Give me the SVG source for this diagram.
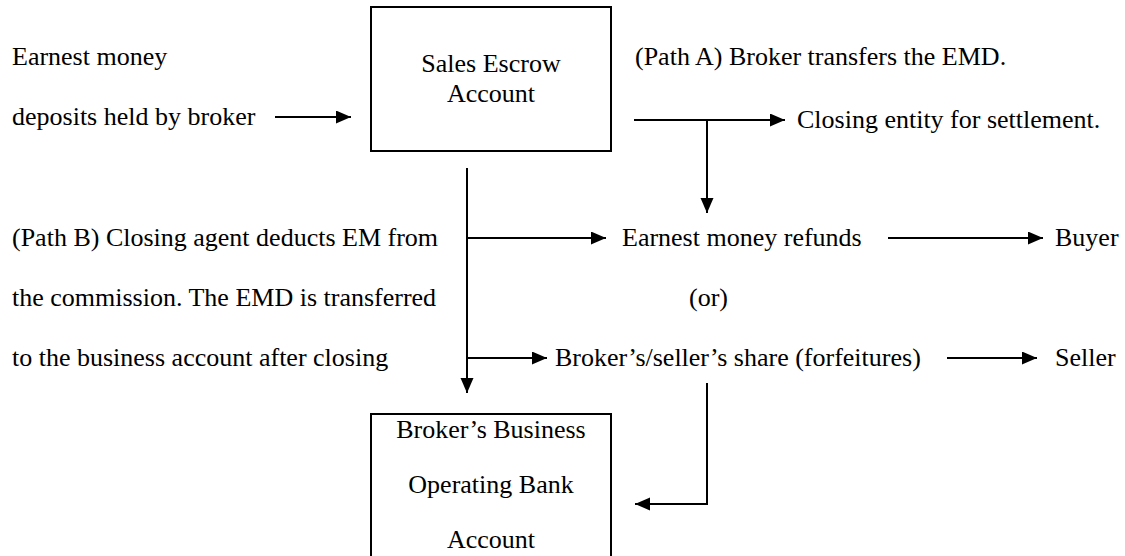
<svg xmlns="http://www.w3.org/2000/svg" width="1125" height="556" viewBox="0 0 1125 556" font-family="'Liberation Serif', 'Times New Roman', Tinos, serif" font-size="26">
<style>
.t{font-family:'Liberation Serif','Times New Roman',Tinos,serif;font-size:26px;fill:#000}
.c{text-anchor:middle}
.box{fill:#fff;stroke:#000;stroke-width:2}
.ln{fill:none;stroke:#000;stroke-width:2}
.ar{marker-end:url(#ah)}
</style>
<defs>
<marker id="ah" markerUnits="userSpaceOnUse" markerWidth="16" markerHeight="14" refX="15" refY="6.5" orient="auto">
<path d="M0,0 L15,6.5 L0,13 z" fill="#000"/>
</marker>
</defs>
<rect width="1125" height="556" fill="#fff"/>
<g id="source" class="t">
<text x="12" y="65">Earnest money</text>
<text x="12" y="125">deposits held by broker</text>
</g>
<g id="escrow" class="t">
<rect class="box" x="371" y="7" width="240" height="144"/>
<text class="c" x="491" y="72">Sales Escrow</text>
<text class="c" x="491" y="102">Account</text>
</g>
<g id="pathA" class="t"><text x="635" y="65">(Path A) Broker transfers the EMD.</text></g>
<g id="closing" class="t"><text x="797" y="128">Closing entity for settlement.</text></g>
<g id="pathB" class="t">
<text x="12" y="246">(Path B) Closing agent deducts EM from</text>
<text x="12" y="306">the commission. The EMD is transferred</text>
<text x="12" y="366">to the business account after closing</text>
</g>
<g id="refunds" class="t"><text x="622" y="246">Earnest money refunds</text></g>
<g id="or" class="t"><text x="689" y="306">(or)</text></g>
<g id="share" class="t"><text x="555" y="366">Broker’s/seller’s share (forfeitures)</text></g>
<g id="buyer" class="t"><text x="1055" y="246">Buyer</text></g>
<g id="seller" class="t"><text x="1055" y="366">Seller</text></g>
<g id="business" class="t">
<rect class="box" x="371" y="414" width="240" height="160"/>
<text class="c" x="491" y="438">Broker’s Business</text>
<text class="c" x="491" y="493">Operating Bank</text>
<text class="c" x="491" y="548">Account</text>
</g>
<g id="connectors">
<line class="ln ar" x1="275" y1="117" x2="351" y2="117"/>
<line class="ln ar" x1="634" y1="120" x2="785" y2="120"/>
<line class="ln ar" x1="707" y1="120" x2="707" y2="213"/>
<line class="ln ar" x1="467" y1="168" x2="467" y2="393"/>
<line class="ln ar" x1="467" y1="238" x2="606" y2="238"/>
<line class="ln ar" x1="467" y1="358" x2="547" y2="358"/>
<line class="ln ar" x1="888" y1="238" x2="1043" y2="238"/>
<line class="ln ar" x1="947" y1="358" x2="1037" y2="358"/>
<polyline class="ln ar" points="707,383 707,504 635,504"/>
</g>
</svg>
